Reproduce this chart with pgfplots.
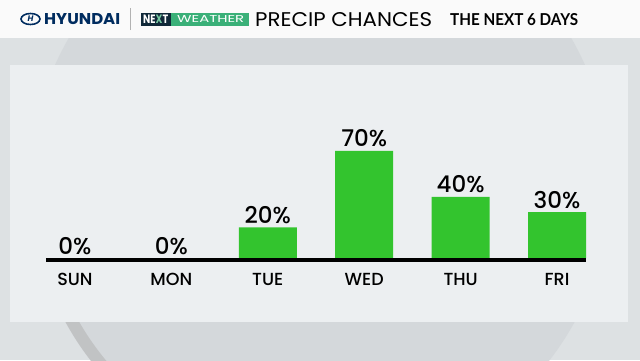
\documentclass[border=0pt]{standalone}
\usepackage{pgfplots}
\pgfplotsset{compat=1.18}
\usepackage{fontspec}
\setmainfont{Poppins}
\newfontfamily\latofont{Lato}
\newfontfamily\medfont{Poppins Medium}
\definecolor{barGreen}{RGB}{51,196,46}
\definecolor{bgGrey}{RGB}{221,225,227}
\definecolor{discGrey}{RGB}{212,216,219}
\definecolor{panelGrey}{RGB}{236,239,241}
\definecolor{hyNavy}{RGB}{0,44,95}
\definecolor{nxNavy}{RGB}{16,40,56}
\definecolor{nxGreen}{RGB}{58,176,120}
\pgfplotstableread{
x val
0 0
1 0
2 20
3 70
4 40
5 30
}\precip
\begin{document}
\begin{tikzpicture}[x=1pt,y=1pt]
\useasboundingbox (0,0) rectangle (640,360);
% background
\fill[bgGrey] (0,0) rectangle (640,360);
\begin{scope}
\clip (0,0) rectangle (640,322);
\fill[discGrey] (320,177) circle (290);
\draw[line width=12pt, color=black!30, opacity=0.55] (320,177) ++(205:284) arc (205:245:284);
\draw[line width=3pt, color=white, opacity=0.6] (320,177) ++(-42:288) arc (-42:-62:288);
\end{scope}
% panel
\fill[panelGrey] (10,38) rectangle (628,295);
% header
\fill[white!98!black] (0,322) rectangle (640,360);
% Hyundai logo
\draw[hyNavy, line width=1.6pt] (30.5,341) ellipse (9.5 and 5.5);
\node[hyNavy, font=\bfseries\itshape\fontsize{8}{8}\selectfont, inner sep=0pt] at (30.5,341) {H};
\node[hyNavy, anchor=south west, inner sep=0pt] at (44,335.5) {\resizebox{76pt}{11pt}{\bfseries HYUNDAI}};
\draw[black!30, line width=0.8pt] (130,330) -- (130,352);
% NEXT WEATHER
\fill[nxNavy] (141,334) rectangle (171,347);
\fill[nxGreen] (171,334) rectangle (249,347);
\node[white, anchor=south west, inner sep=0pt] at (143,336.5) {\resizebox{25pt}{8.5pt}{\bfseries NE\textcolor{nxGreen!70!white}{X}T}};
\node[white, anchor=south west, inner sep=0pt] at (177,337) {\resizebox{67pt}{7pt}{WEATHER}};
% titles
\node[black, anchor=south west, inner sep=0pt] at (255,333) {\resizebox{177pt}{14pt}{PRECIP CHANCES}};
\node[black, anchor=south west, inner sep=0pt] at (450,334) {\resizebox{128pt}{12pt}{\latofont\bfseries THE NEXT 6 DAYS}};
% chart
\begin{axis}[
  at={(46pt,98pt)}, anchor=south west,
  scale only axis, width=540pt, height=157pt,
  xmin=-0.3, xmax=5.3, ymin=-2.6, ymax=100,
  axis line style={draw=none},
  major tick length=0pt,
  ytick=\empty,
  xtick={0,1,2,3,4,5},
  xticklabels={SUN,MON,TUE,WED,THU,FRI},
  xticklabel style={font=\medfont\fontsize{17.5}{17.5}\selectfont, anchor=base, yshift=-23pt, inner sep=0pt},
  /pgf/number format/assume math mode=true,
  clip=false,
]
\addplot[ybar, bar width=58pt, fill=barGreen, draw=none,
  nodes near coords={\pgfmathprintnumber{\pgfplotspointmeta}\%},
  nodes near coords style={font=\medfont\fontsize{23}{23}\selectfont, anchor=base, yshift=4pt, inner sep=0pt, text=black},
  point meta=explicit] table[x=x, y=val, meta=val] {\precip};
\draw[black, line width=4pt] (axis cs:-0.3,-1.3) -- (axis cs:5.3,-1.3);
\end{axis}
\end{tikzpicture}
\end{document}
